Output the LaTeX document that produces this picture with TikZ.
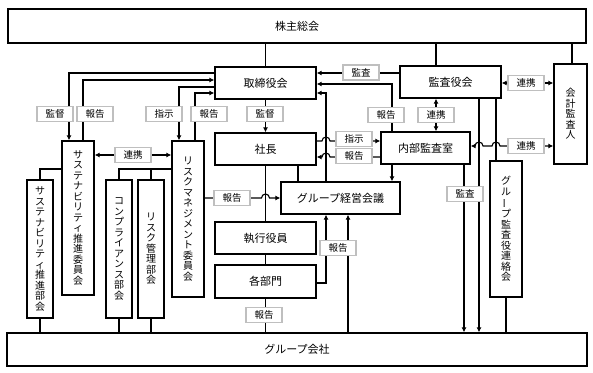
\documentclass[tikz,border=0pt]{standalone}
\usepackage{fontspec}
\usepackage{graphicx}
\usetikzlibrary{arrows.meta}
\newfontfamily\jp{Noto Sans CJK JP}
\newcommand\vbar{\rotatebox[origin=c]{90}{ー}}
\begin{document}
\begin{tikzpicture}[x=1pt,y=-1pt,
  box/.style={draw, line width=1.3pt, inner sep=0pt, font=\jp\fontsize{11}{13}\selectfont},
  vbox/.style={box, align=center, font=\jp\fontsize{10}{10.5}\selectfont},
  lab/.style={draw=black!25, line width=1.2pt, fill=white, inner sep=0pt, minimum width=36pt, minimum height=15pt, font=\jp\fontsize{9.5}{10}\selectfont},
  ln/.style={line width=1.1pt},
  arr/.style={ln, -{Latex[length=5pt,width=5pt]}},
  darr/.style={ln, {Latex[length=5pt,width=5pt]}-{Latex[length=5pt,width=5pt]}}]
\useasboundingbox (0,0) rectangle (593,372);
% boxes
\node[box, minimum width=578pt, minimum height=34pt] (kabu) at (297,26) {株主総会};
\node[box, minimum width=101pt, minimum height=32pt] (tori) at (265.5,83) {取締役会};
\node[box, minimum width=101pt, minimum height=32pt] (kansa) at (450.5,82) {監査役会};
\node[vbox, minimum width=33pt, minimum height=100pt] (kaikei) at (570.5,114) {会\\計\\監\\査\\人};
\node[box, minimum width=101pt, minimum height=32pt] (shacho) at (265.5,149) {社長};
\node[box, minimum width=89pt, minimum height=32pt] (naibu) at (425.5,148) {内部監査室};
\node[box, minimum width=119pt, minimum height=32pt] (gmeet) at (340.5,198) {グループ経営会議};
\node[box, minimum width=101pt, minimum height=32pt] (shikko) at (265.5,238) {執行役員};
\node[box, minimum width=101pt, minimum height=33pt] (kakubu) at (265.5,281.5) {各部門};
\node[box, minimum width=580pt, minimum height=33pt] (gkai) at (297,349.5) {グループ会社};
\node[vbox, minimum width=32pt, minimum height=154pt] (suiin) at (78,218) {サ\\ス\\テ\\ナ\\ビ\\リ\\テ\\ィ\\推\\進\\委\\員\\会};
\node[vbox, minimum width=32pt, minimum height=156pt] (risk) at (188,219) {リ\\ス\\ク\\マ\\ネ\\ジ\\メ\\ン\\ト\\委\\員\\会};
\node[vbox, minimum width=26pt, minimum height=138pt] (suibu) at (40,249) {サ\\ス\\テ\\ナ\\ビ\\リ\\テ\\ィ\\推\\進\\部\\会};
\node[vbox, minimum width=26pt, minimum height=138pt] (compl) at (119,249) {コ\\ン\\プ\\ラ\\イ\\ア\\ン\\ス\\部\\会};
\node[vbox, minimum width=26pt, minimum height=138pt] (rkanri) at (151,249) {リ\\ス\\ク\\管\\理\\部\\会};
\node[vbox, minimum width=32pt, minimum height=136pt] (grk) at (506,229) {グ\\ル\\\vbar\\プ\\監\\査\\役\\連\\絡\\会};
% top lines
\draw[ln] (tori.north) -- (tori.north |- kabu.south);
\draw[ln] (436,0 |- kansa.north) -- (436,0 |- kabu.south);
\draw[ln] (572,0 |- kaikei.north) -- (572,0 |- kabu.south);
% left side
\draw[arr] (tori.west |- 0,73) -| (69,0 |- suiin.north);
\draw[arr] (83,0 |- suiin.north) |- (tori.west |- 0,80);
\draw[arr] (tori.west |- 0,87) -| (179,0 |- risk.north);
\draw[arr] (195,0 |- risk.north) |- (tori.west |- 0,93);
\draw[arr] (tori.south) -- (shacho.north);
\draw[darr] (suiin.east |- 0,155) -- (risk.west |- 0,155);
\draw[ln] (suibu.north) |- (suiin.west |- 0,169);
\draw[ln] (compl.north) |- (risk.west |- 0,169);
\draw[ln] (rkanri.north) -- (rkanri.north |- 0,169);
\draw[ln] (suibu.south) -- (suibu.south |- gkai.north);
\draw[ln] (compl.south) -- (compl.south |- gkai.north);
\draw[ln] (rkanri.south) -- (rkanri.south |- gkai.north);
% center
\draw[ln] (shacho.south) -- (shikko.north);
\draw[ln] (shikko.south) -- (kakubu.north);
\draw[ln] (kakubu.south) -- (kakubu.south |- gkai.north);
\draw[ln] (298,0 |- shacho.south) -- (298,0 |- gmeet.north);
\draw[arr] (risk.east |- 0,198) -- (261.5,198) arc[start angle=180,end angle=0,radius=4pt] -- (gmeet.west);
\draw[arr] (kakubu.east |- 0,283) -| (326,0 |- gmeet.south);
\draw[arr] (348,0 |- gkai.north) -- (348,0 |- gmeet.south);
\draw[arr] (326,0 |- gmeet.north) |- (tori.east |- 0,93);
\draw[arr] (kansa.west |- 0,73) -- (tori.east |- 0,73);
\draw[arr] (392,0 |- naibu.north) |- (tori.east |- 0,84);
\draw[arr] (shacho.east |- 0,141) -- (322,141) arc[start angle=180,end angle=0,radius=4pt] -- (naibu.west |- 0,141);
\draw[arr] (naibu.west |- 0,157) -- (330,157) arc[start angle=0,end angle=180,radius=4pt] -- (shacho.east |- 0,157);
\draw[arr] (392,0 |- naibu.south) -- (392,0 |- gmeet.north);
% right side
\draw[darr] (436,0 |- kansa.south) -- (436,0 |- naibu.north);
\draw[arr] (464,0 |- naibu.south) -- (464,0 |- gkai.north);
\draw[arr] (479,0 |- kansa.south) -- (479,0 |- gkai.north);
\draw[ln] (496,0 |- kansa.south) -- (496,0 |- grk.north);
\draw[ln] (grk.south) -- (grk.south |- gkai.north);
\draw[darr] (kansa.east |- 0,83) -- (kaikei.west |- 0,83);
\draw[darr] (naibu.east |- 0,146) -- (475,146) arc[start angle=180,end angle=0,radius=4pt] -- (492,146) arc[start angle=180,end angle=0,radius=4pt] -- (kaikei.west |- 0,146);
% labels
\node[lab] (l1) at (55,114) {監督};
\node[lab] (l2) at (95,114) {報告};
\node[lab] (l3) at (164,114) {指示};
\node[lab] (l4) at (209,114) {報告};
\node[lab] (l5) at (265,114) {監督};
\node[lab] (l6) at (133,155) {連携};
\node[lab] (l7) at (232,198) {報告};
\node[lab] (l8) at (264,315) {報告};
\node[lab] (l9) at (338,248) {報告};
\node[lab] (l10) at (361,72.5) {監査};
\node[lab] (l11) at (386,115) {報告};
\node[lab] (l12) at (354,139) {指示};
\node[lab] (l13) at (354,156) {報告};
\node[lab] (l14) at (436,115) {連携};
\node[lab] (l15) at (465,194) {監査};
\node[lab] (l16) at (526,83) {連携};
\node[lab] (l17) at (526,146) {連携};
\end{tikzpicture}
\end{document}
